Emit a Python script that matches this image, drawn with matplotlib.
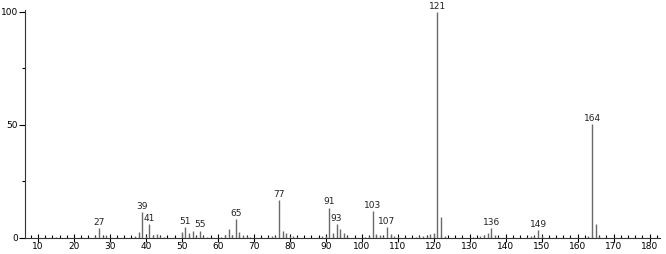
import matplotlib
matplotlib.use("Agg")
import matplotlib.pyplot as plt
from matplotlib.ticker import MultipleLocator

# m/z values and relative intensities
mz = [15, 26, 27, 28, 29, 37, 38, 39, 40, 41, 42, 43, 44, 45,
      50, 51, 52, 53, 54, 55, 56, 57, 61, 62, 63, 64, 65, 66, 67, 68, 69,
      74, 75, 76, 77, 78, 79, 80, 81, 82, 89, 90, 91, 92, 93, 94, 95, 96,
      101, 102, 103, 104, 105, 106, 107, 108, 109, 110,
      115, 116, 117, 118, 119, 120, 121, 122, 123,
      131, 133, 134, 135, 136, 137, 138,
      146, 147, 148, 149, 150, 163, 164, 165, 166]
intensity = [0.5, 1.0, 4.4, 1.0, 1.5, 1.0, 2.8, 11.5, 1.0, 6.2, 1.2, 1.8, 0.8, 0.6,
             2.8, 4.9, 2.0, 3.2, 1.0, 3.2, 0.8, 0.6, 0.6, 1.5, 4.1, 1.2, 8.4, 2.6, 1.5, 1.0, 0.6,
             0.6, 0.8, 1.0, 16.8, 3.0, 2.4, 1.0, 0.8, 0.6, 0.8, 1.0, 13.4, 2.3, 6.2, 3.8, 2.4, 0.8,
             0.6, 1.0, 12.0, 1.6, 1.2, 1.0, 4.9, 1.6, 1.0, 0.6,
             0.6, 0.8, 0.8, 1.0, 1.6, 2.0, 100.0, 9.4, 1.0,
             0.6, 0.8, 1.2, 2.0, 4.3, 1.2, 0.6,
             0.6, 1.0, 1.0, 3.5, 0.8, 1.0, 50.3, 6.3, 1.0]
labeled = [27, 39, 41, 51, 55, 65, 77, 91, 93, 103, 107, 121, 136, 149, 164]

fig = plt.figure(figsize=(6.66, 2.54), dpi=100)
ax = fig.add_axes([0.0375, 0.063, 0.953, 0.899])

ax.vlines(mz, 0, intensity, colors="#6a6a6a", linewidth=1.0)

for m, v in zip(mz, intensity):
    if m in labeled:
        ax.text(m, v + 0.6, str(m), ha="center", va="bottom", fontsize=6.5,
                color="#222222")

ax.set_xlim(6.4, 182.8)
ax.set_ylim(0, 101)

ax.xaxis.set_major_locator(MultipleLocator(10))
ax.xaxis.set_minor_locator(MultipleLocator(2))
ax.set_yticks([0, 50, 100])
ax.set_yticks([25, 75], minor=True)

ax.tick_params(axis="x", which="major", direction="inout", length=6, width=0.8,
               labelsize=6.5, pad=0)
ax.tick_params(axis="x", which="minor", direction="in", length=2.5, width=0.8)
ax.tick_params(axis="y", which="major", direction="out", length=4, width=0.8,
               labelsize=6.5, pad=1)
ax.tick_params(axis="y", which="minor", direction="out", length=2, width=0.8)

ax.spines["top"].set_visible(False)
ax.spines["right"].set_visible(False)
for s in ("left", "bottom"):
    ax.spines[s].set_linewidth(0.8)
    ax.spines[s].set_color("#333333")

fig.savefig("out.png", dpi=100)
